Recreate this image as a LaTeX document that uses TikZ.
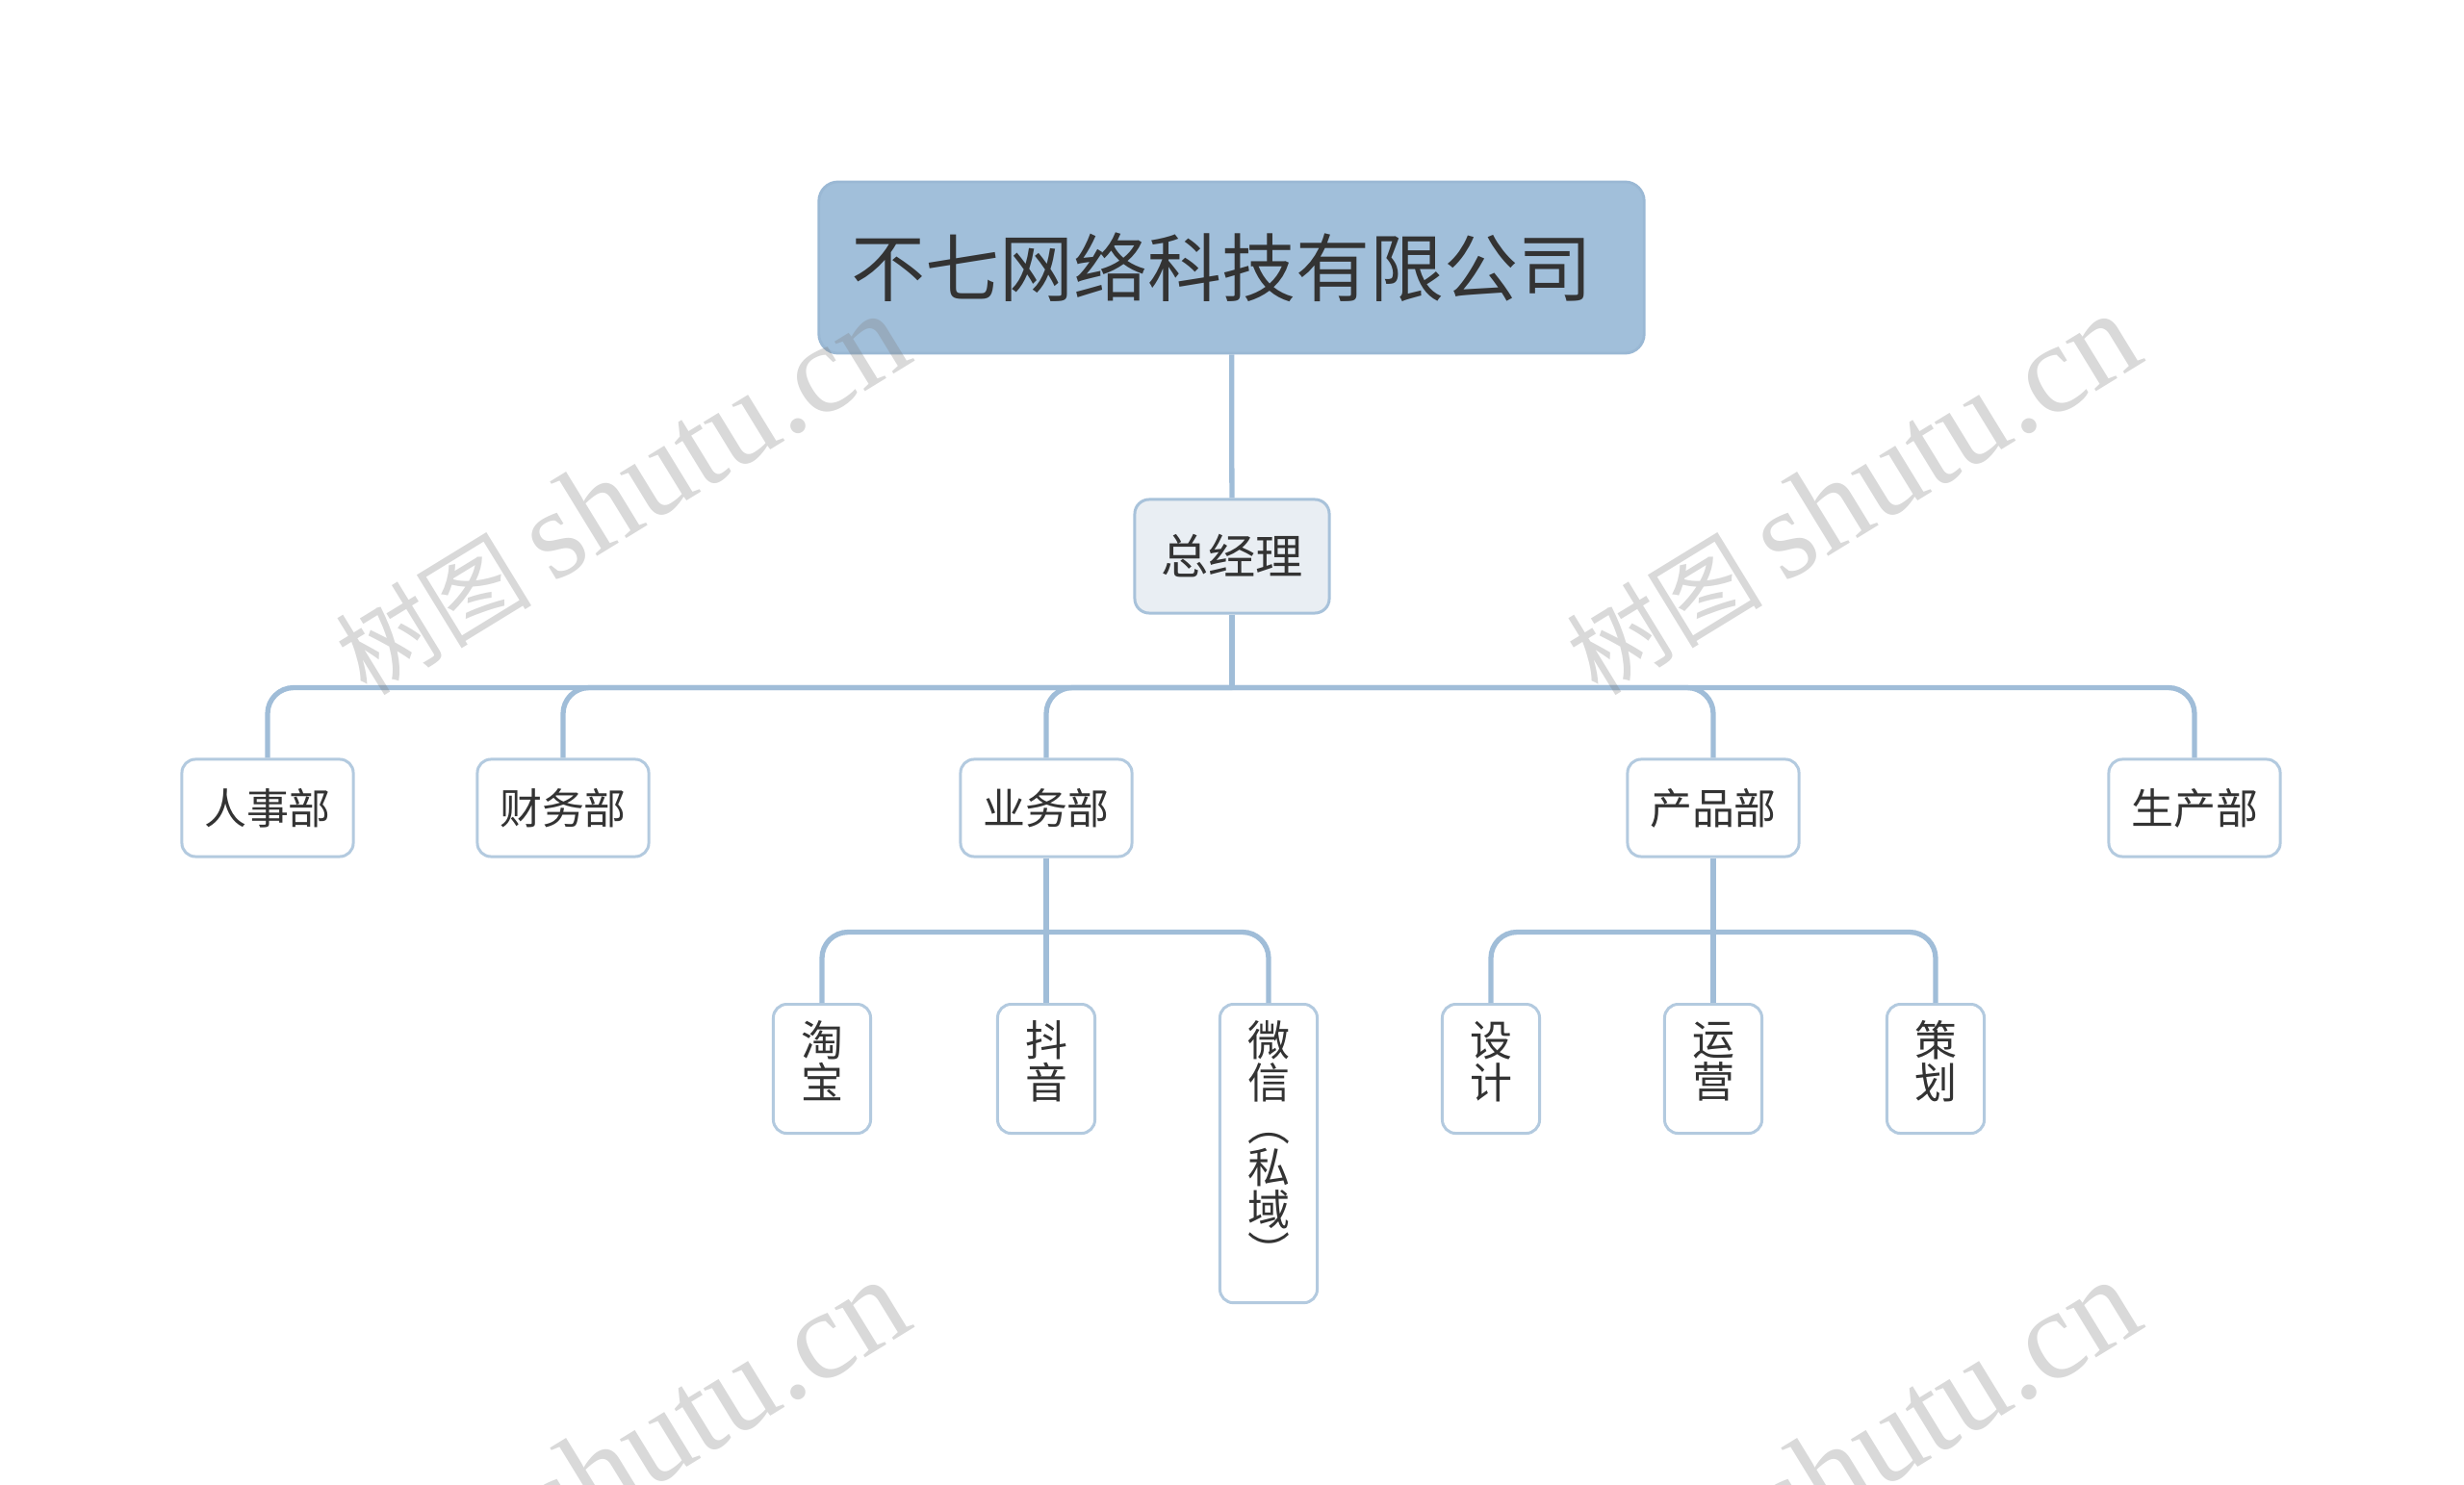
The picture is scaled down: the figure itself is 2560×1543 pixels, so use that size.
\documentclass[tikz,border=0pt]{standalone}
\usepackage{fontspec}
\setmainfont{Noto Sans CJK SC}
\newfontfamily\wmfont{Liberation Serif}
\definecolor{rootfill}{HTML}{A1BFDA}
\definecolor{rootedge}{HTML}{9AB8D4}
\definecolor{gmfill}{HTML}{E9EEF3}
\definecolor{gmedge}{HTML}{A8C2DA}
\definecolor{boxedge}{HTML}{B3CADF}
\definecolor{linkblue}{HTML}{A0BDD8}
\definecolor{inkgray}{HTML}{333333}
\newcommand{\lift}{\rule[-0.19cm]{0pt}{0pt}}

\begin{document}
\begin{tikzpicture}[x=0.01cm,y=-0.01cm,
  rootbox/.style={rectangle,rounded corners=0.2cm,draw=rootedge,fill=rootfill,line width=0.8pt,
    minimum width=8.57cm,minimum height=1.78cm,text=inkgray,font=\fontsize{21.9pt}{21.9pt}\selectfont},
  gmbox/.style={rectangle,rounded corners=0.15cm,draw=gmedge,fill=gmfill,line width=0.85pt,
    minimum width=2.02cm,minimum height=1.18cm,text=inkgray,font=\fontsize{14pt}{14pt}\selectfont},
  deptbox/.style={rectangle,rounded corners=0.14cm,draw=boxedge,fill=white,line width=0.85pt,
    minimum width=1.78cm,minimum height=1.01cm,text=inkgray,font=\fontsize{12.5pt}{12.5pt}\selectfont},
  subbox/.style={rectangle,rounded corners=0.14cm,draw=boxedge,fill=white,line width=0.85pt,anchor=north,
    minimum width=1.01cm,minimum height=1.34cm,align=center,inner sep=0pt,text=inkgray,
    font=\fontsize{12.5pt}{12.5pt}\selectfont},
  conn/.style={draw=linkblue,line width=1.5pt},
  elbow/.style={conn,rounded corners=0.27cm},
  wmark/.style={rotate=31.5,text=gray,opacity=0.3,font=\fontsize{29pt}{29pt}\selectfont}]
\useasboundingbox (0,0) rectangle (2560,1543);
\node[rootbox] (root) at (1279.5,278) {不七网络科技有限公司\hspace*{0.2cm}};
\node[gmbox] (gm) at (1280,578) {总经理};
\node[deptbox] (hr) at (278,839.5) {人事部};
\node[deptbox] (fin) at (585,839.5) {财务部};
\node[deptbox] (biz) at (1087,839.5) {业务部};
\node[deptbox] (prod) at (1780,839.5) {产品部};
\node[deptbox] (mfg) at (2280,839.5) {生产部};
\node[subbox] (tb) at (854,1042) {淘\\宝\lift};
\node[subbox] (dy) at (1087,1042) {抖\\音\lift};
\node[subbox,minimum height=3.1cm] (wx) at (1318,1042) {微\\信\\︵\\私\\域\\︶\lift};
\node[subbox] (sj) at (1549,1042) {设\\计\lift};
\node[subbox] (yy) at (1780,1042) {运\\营\lift};
\node[subbox] (ch) at (2011,1042) {策\\划\lift};
\path (gm.south) ++(0,76) coordinate (bus1);
\path (biz.south) ++(0,77) coordinate (bus2);
\path (prod.south) ++(0,77) coordinate (bus3);
\draw[conn] (root) -- (gm);
\draw[conn] (gm.south) -- (bus1);
\foreach \d in {hr,fin,biz,prod,mfg}
  \draw[elbow] (bus1) -| (\d.north);
\draw[conn] (biz.south) -- (dy.north);
\foreach \d in {tb,wx}
  \draw[elbow] (bus2) -| (\d.north);
\draw[conn] (prod.south) -- (yy.north);
\foreach \d in {sj,ch}
  \draw[elbow] (bus3) -| (\d.north);
\node[wmark] (wm1) at (645,514) {树图 {\wmfont\fontsize{37.5pt}{37.5pt}\selectfont shutu.cn}};
\node[wmark] (wm2) at (1924,514) {树图 {\wmfont\fontsize{37.5pt}{37.5pt}\selectfont shutu.cn}};
\node[wmark] (wm3) at (645,1518) {树图 {\wmfont\fontsize{37.5pt}{37.5pt}\selectfont shutu.cn}};
\node[wmark] (wm4) at (1924,1518) {树图 {\wmfont\fontsize{37.5pt}{37.5pt}\selectfont shutu.cn}};
\end{tikzpicture}
\end{document}
